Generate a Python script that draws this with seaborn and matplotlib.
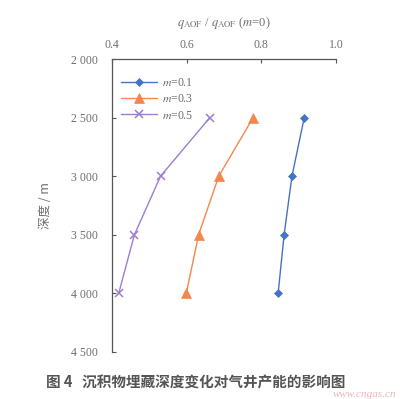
import numpy as np
import pandas as pd
import matplotlib
matplotlib.use("Agg")
import matplotlib.pyplot as plt
import seaborn as sns

# Burial depth (m) and normalized open-flow capacity for each m
depth = [2500, 3000, 3500, 4000]
ratio_m01 = [0.915, 0.882, 0.861, 0.845]
ratio_m03 = [0.778, 0.686, 0.632, 0.599]
ratio_m05 = [0.662, 0.530, 0.460, 0.418]
series_labels = ["0.1", "0.3", "0.5"]

x_ticks = [0.4, 0.6, 0.8, 1.0]
y_ticks = [2000, 2500, 3000, 3500, 4000, 4500]
y_tick_labels = ["2 000", "2 500", "3 000", "3 500", "4 000", "4 500"]

colors = ["#4472C4", "#F4874B", "#9B7ED0"]
markers = ["D", "^", "x"]
msizes = [4.5, 6.5, 6]

df = pd.DataFrame({
    "depth": depth * 3,
    "ratio": ratio_m01 + ratio_m03 + ratio_m05,
    "m": [s for s in series_labels for _ in depth],
})

sns.set_theme(style="white")
plt.rcParams["font.family"] = ["Liberation Serif", "Noto Sans CJK SC", "DejaVu Sans"]
plt.rcParams["mathtext.fontset"] = "stix"

fig = plt.figure(figsize=(4.0, 3.99), dpi=100)
ax = fig.add_axes([0.28, 0.118, 0.56, 0.734])

gray = "#6e6e6e"
for i, lab in enumerate(series_labels):
    sub = df[df["m"] == lab]
    sns.lineplot(data=sub, x="ratio", y="depth", ax=ax, sort=False,
                 color=colors[i], marker=markers[i], markersize=msizes[i],
                 markeredgecolor=colors[i], markeredgewidth=1.1 if markers[i] == "x" else 0.5,
                 linewidth=1.0, label=f"$m$=" + lab, estimator=None)

ax.set_xlim(0.4, 1.0)
ax.set_ylim(4500, 2000)
ax.xaxis.tick_top()
ax.xaxis.set_label_position("top")
ax.set_xticks(x_ticks)
ax.set_xticklabels([f"{v:.1f}" for v in x_ticks])
ax.set_yticks(y_ticks)
ax.set_yticklabels(y_tick_labels)

for s in ["right", "bottom"]:
    ax.spines[s].set_visible(False)
for s in ["left", "top"]:
    ax.spines[s].set_color("#555555")
    ax.spines[s].set_linewidth(0.9)

ax.tick_params(axis="both", direction="in", length=3, width=0.8,
               colors="#555555", labelcolor=gray, labelsize=8.5)
ax.tick_params(axis="x", top=True, bottom=False, pad=6)
ax.tick_params(axis="y", left=True, pad=10)

ax.set_xlabel(r"$q_{\mathrm{AOF}}$ / $q_{\mathrm{AOF}}$ ($m$=0)", color=gray,
              fontsize=9, labelpad=9)
ax.set_ylabel("深度 / m", color=gray, fontsize=9, labelpad=14,
              family=["Noto Sans CJK SC", "DejaVu Sans"])

leg = ax.legend(loc="upper left", frameon=False, fontsize=8.5,
                bbox_to_anchor=(0.0, 0.97), handlelength=3.0,
                handletextpad=0.4, labelspacing=0.35, borderaxespad=0.4)
for t in leg.get_texts():
    t.set_color(gray)

fig.text(0.49, 0.042, "图 4   沉积物埋藏深度变化对气井产能的影响图",
         ha="center", va="center", fontsize=10.5, color="#555555",
         fontweight="bold", family=["Noto Sans CJK SC", "DejaVu Sans"])
fig.text(0.99, 0.0, "www.cngas.cn", ha="right", va="bottom",
         fontsize=8, color="#e9a0a8", style="italic", alpha=0.8,
         family=["Liberation Serif"])

fig.savefig("out.png", dpi=100, facecolor="white")
